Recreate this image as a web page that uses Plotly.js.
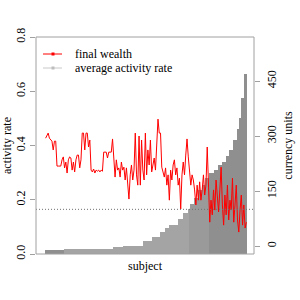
<!DOCTYPE html>
<html>
<head>
<meta charset="utf-8">
<script src="https://cdn.plot.ly/plotly-3.0.1.min.js"></script>
<style>html,body{margin:0;padding:0;background:#fff;}#chart{width:300px;height:300px;}</style>
</head>
<body>
<div id="chart"></div>
<script>
// subjects 1..160, sorted by average activity rate
var activityRate = [
 0.015,0.015,0.015,0.015,0.015,0.015,0.015,0.015,0.015,0.015,0.015,0.015,0.015,0.015,0.015,
 0.017,0.017,0.017,0.017,0.017,0.017,0.017,0.017,0.017,0.017,0.017,0.017,0.017,0.017,0.017,
 0.019,0.019,0.019,0.019,0.019,0.019,0.019,0.019,0.019,0.019,0.019,0.019,0.019,0.019,0.019,0.019,0.019,0.019,0.019,0.019,0.019,0.019,0.019,0.019,
 0.027,0.027,0.027,0.027,0.027,0.027,0.027,0.027,
 0.030,0.030,0.030,0.030,0.030,0.030,0.030,0.030,0.030,0.030,0.030,0.030,0.030,0.030,0.030,0.030,
 0.048,0.048,0.048,0.048,0.048,0.048,0.048,
 0.064,0.064,0.064,0.064,0.064,0.064,
 0.082,0.082,0.082,0.082,
 0.095,0.095,0.095,
 0.107,0.107,0.107,0.107,0.107,0.107,0.107,
 0.128,0.128,0.128,0.128,
 0.150,0.150,0.150,0.150,
 0.166,0.166,
 0.185,0.185,0.185,
 0.206,0.206,0.206,
 0.236,0.236,0.236,
 0.254,0.254,0.254,
 0.280,0.280,0.280,
 0.299,0.299,0.299,0.299,
 0.310,0.310,0.310,
 0.328,0.328,0.328,
 0.340,0.340,0.340,
 0.360,0.360,0.360,
 0.383,0.383,0.383,
 0.420,0.420,0.420,
 0.460,0.460,
 0.500,
 0.575,0.575,0.575,
 0.664,0.664
];
var finalWealth = [
 294,300,308,294,289,286,262,286,286,218,
 218,218,218,235,243,213,229,199,235,243,
 240,207,229,202,235,248,248,213,235,308,
 308,262,308,308,270,289,207,202,210,199,
 207,204,207,202,207,204,256,256,256,240,
 256,256,256,292,235,188,235,207,213,188,
 229,207,215,180,213,166,128,194,221,180,
 207,308,194,166,300,166,289,207,180,308,
 194,262,221,289,202,221,240,207,262,346,
 308,308,215,202,188,213,166,194,125,207,
 180,221,235,194,213,166,185,101,194,229,
 194,248,292,243,194,166,194,180,153,112,
 166,125,175,125,153,194,139,166,270,180,
 65,125,85,153,98,180,125,93,153,215,
 112,57,139,85,166,71,125,98,185,65,
 112,166,71,38,98,139,57,112,49,65
];
var yTicks = [0, 0.2, 0.4, 0.6, 0.8];
var yTickText = ["0.0", "0.2", "0.4", "0.6", "0.8"];
var y2Ticks = [0, 150, 300, 450];
var y2TickText = ["0", "150", "300", "450"];
var startWealth = 100;
var legendLabels = ["final wealth", "average activity rate"];

var subjects = activityRate.map(function(_, i){ return i + 1; });
var barColors = subjects.map(function(s){
  if (s <= 15) return '#8f8f8f';
  if (s >= 131) return '#8f8f8f';
  if (s >= 115) return '#9a9a9a';
  return '#a4a4a4';
});

var FONT = 'Liberation Serif';
var FS = 12;
var AX = '#a0a0a0';

var traces = [
  {type:'bar', x:subjects, y:activityRate, yaxis:'y', marker:{color:barColors, line:{width:0}}, hoverinfo:'skip', showlegend:false},
  {type:'scatter', mode:'lines', x:subjects, y:finalWealth, yaxis:'y2', line:{color:'#ff0000', width:1}, hoverinfo:'skip', showlegend:false}
];

function px(x){ return (x-36)/218; }
function py(y){ return (254-y)/217; }

var layout = {
  width:300, height:300,
  margin:{l:36, r:46, t:37, b:46, pad:0},
  paper_bgcolor:'#fff', plot_bgcolor:'#fff',
  bargap:0,
  showlegend:false,
  font:{family:FONT, size:FS, color:'#000'},
  xaxis:{range:[-6.63,166.05], showticklabels:false, ticks:'', showgrid:false, zeroline:false, showline:false,
         title:{text:'subject', font:{family:FONT, size:FS}, standoff:7}},
  yaxis:{range:[0,0.8], tickvals:yTicks, ticktext:yTickText, ticks:'outside', ticklen:5, tickcolor:AX, tickwidth:1,
         tickangle:-90, showgrid:false, zeroline:false, showline:false, tickfont:{family:FONT, size:FS},
         title:{text:'activity rate', font:{family:FONT, size:FS}, standoff:3}},
  yaxis2:{overlaying:'y', side:'right', range:[-21.8,570], tickvals:y2Ticks, ticktext:y2TickText, ticks:'outside', ticklen:5,
          tickcolor:AX, tickwidth:1, tickangle:-90, showgrid:false, zeroline:false, showline:false, tickfont:{family:FONT, size:FS},
          ticklabelstandoff:2,
          title:{text:'currency units', font:{family:FONT, size:FS}, standoff:5}},
  shapes:[
    {type:'line', xref:'paper', yref:'y2', x0:0, x1:1, y0:startWealth, y1:startWealth, line:{color:'#707070', width:1, dash:'1px,2px'}, layer:'above'},
    {type:'rect', xref:'paper', yref:'paper', x0:0, x1:1, y0:0, y1:1, line:{color:AX, width:1}, layer:'above'},
    {type:'line', xref:'paper', yref:'paper', x0:px(43), x1:px(62), y0:py(54), y1:py(54), line:{color:'#ff0000', width:1}},
    {type:'rect', xref:'paper', yref:'paper', x0:px(51.5), x1:px(54.5), y0:py(55.5), y1:py(52.5), line:{width:0}, fillcolor:'#ff0000'},
    {type:'line', xref:'paper', yref:'paper', x0:px(43), x1:px(62), y0:py(68), y1:py(68), line:{color:'#c8c8c8', width:1}},
    {type:'rect', xref:'paper', yref:'paper', x0:px(51.5), x1:px(54.5), y0:py(69.5), y1:py(66.5), line:{width:0}, fillcolor:'#bdbdbd'}
  ],
  annotations:[
    {xref:'paper', yref:'paper', x:px(73), y:py(54), xanchor:'left', yanchor:'middle', text:legendLabels[0], showarrow:false, font:{family:FONT, size:FS, color:'#000'}},
    {xref:'paper', yref:'paper', x:px(73), y:py(68), xanchor:'left', yanchor:'middle', text:legendLabels[1], showarrow:false, font:{family:FONT, size:FS, color:'#000'}}
  ]
};

Plotly.newPlot('chart', traces, layout, {staticPlot:true, displayModeBar:false});
</script>
</body>
</html>
